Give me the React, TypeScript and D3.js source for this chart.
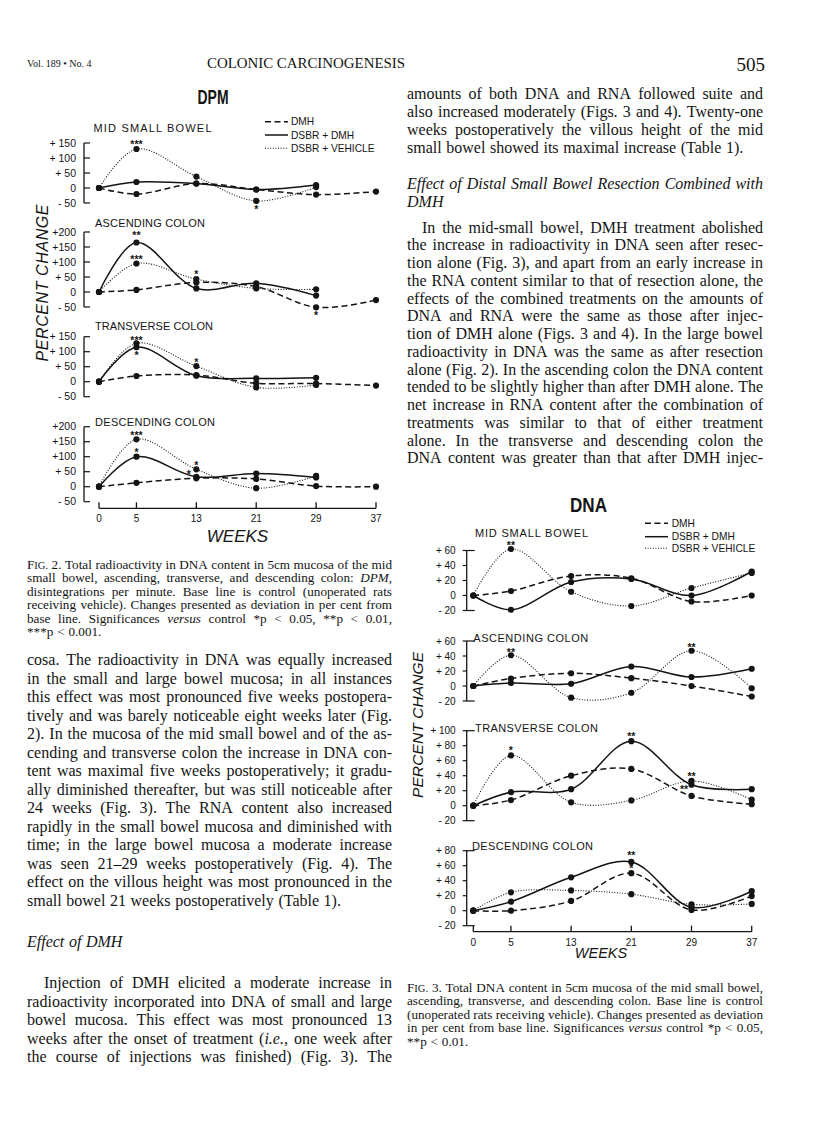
import React from 'react';
import * as d3 from 'd3';

// ---------------- DATA ----------------
const WEEKS = [0, 5, 13, 21, 29, 37];
const WEEK_LABELS = ['0', '5', '13', '21', '29', '37'];
const SERIES_NAMES = ['DMH', 'DSBR + DMH', 'DSBR + VEHICLE'];
const PANEL_NAMES = ['MID SMALL BOWEL', 'ASCENDING COLON', 'TRANSVERSE COLON', 'DESCENDING COLON'];

// Fig. 2 — DPM (percent change)
const DPM_DOMAINS = [[-50, 150], [-50, 200], [-50, 150], [-50, 200]];
const DPM_TICKS = [[150, 100, 50, 0, -50], [200, 150, 100, 50, 0, -50], [150, 100, 50, 0, -50], [200, 150, 100, 50, 0, -50]];
const DPM_TICK_LABELS = [
  ['+ 150', '+ 100', '+ 50', '0', '- 50'],
  ['+200', '+150', '+100', '+ 50', '0', '- 50'],
  ['+ 150', '+ 100', '+ 50', '0', '- 50'],
  ['+200', '+150', '+100', '+ 50', '0', '- 50'],
];
const DPM_DMH = [[0, -20, 15, -5, -22, -12], [0, 7, 32, 18, -51, -27], [0, 19, 22, -5, -6, -13], [0, 13, 28, 26, 2, 0]];
const DPM_DSBR_DMH = [[0, 20, 15, -5, 10], [0, 165, 12, 29, -12], [0, 115, 20, 11, 13], [0, 100, 33, 44, 31]];
const DPM_DSBR_VEH = [[0, 130, 38, -43, 3], [0, 95, 43, 12, 9], [0, 128, 52, -19, -11], [0, 158, 58, -5, 36]];
const DPM_STARS = [
  { p: 0, w: 5, v: 154, t: '***' }, { p: 0, w: 21, v: -64, t: '*' },
  { p: 1, w: 5, v: 197, t: '**' }, { p: 1, w: 5, v: 117, t: '***' }, { p: 1, w: 13, v: 67, t: '*' }, { p: 1, w: 29, v: -70, t: '*' },
  { p: 2, w: 5, v: 146, t: '***' }, { p: 2, w: 5, v: 96, t: '*' }, { p: 2, w: 13, v: 72, t: '*' },
  { p: 3, w: 5, v: 179, t: '***' }, { p: 3, w: 5, v: 122, t: '*' }, { p: 3, w: 13, v: 80, t: '*' }, { p: 3, w: 12, v: 50, t: '*' },
];

// Fig. 3 — DNA (percent change)
const DNA_DOMAINS = [[-20, 60], [-20, 60], [-20, 100], [-20, 80]];
const DNA_TICKS = [[60, 40, 20, 0, -20], [60, 40, 20, 0, -20], [100, 80, 60, 40, 20, 0, -20], [80, 60, 40, 20, 0, -20]];
const DNA_TICK_LABELS = [
  ['+ 60', '+ 40', '+ 20', '0', '- 20'],
  ['+ 60', '+ 40', '+ 20', '0', '- 20'],
  ['+ 100', '+ 80', '+ 60', '+ 40', '+ 20', '0', '- 20'],
  ['+ 80', '+ 60', '+ 40', '+ 20', '0', '- 20'],
];
const DNA_DMH = [[0, 6, 26, 23, -8, 0], [0, 10, 17, 10.5, 0, -14], [0, 7.5, 40, 49, 13, 2], [0, 0, 13, 50, 1, 19.5]];
const DNA_DSBR_DMH = [[0, -19, 18, 22, 0, 32], [0, 4, 3, 26, 12, 23], [0, 18, 22, 86, 28, 22], [0, 12, 44.5, 65, 4.5, 26]];
const DNA_DSBR_VEH = [[0, 62, 5, -14, 10, 30], [0, 41, -15.5, -9, 47, -3], [0, 67, 4.5, 7, 33, 8], [0, 24.5, 27, 22, 8.5, 9]];
const DNA_STARS = [
  { p: 0, w: 5, v: 70, t: '**' },
  { p: 1, w: 5, v: 48, t: '**' }, { p: 1, w: 29, v: 55, t: '**' },
  { p: 2, w: 5, v: 77, t: '*' }, { p: 2, w: 21, v: 96, t: '**' }, { p: 2, w: 29, v: 42, t: '**' }, { p: 2, w: 28, v: 25, t: '**' },
  { p: 3, w: 21, v: 77, t: '**' }, { p: 3, w: 21, v: 59, t: '*' },
];

// ---------------- TEXT ----------------
const RIGHT_TOP = [
  'amounts of both DNA and RNA followed suite and',
  'also increased moderately (Figs. 3 and 4). Twenty-one',
  'weeks postoperatively the villous height of the mid',
  'small bowel showed its maximal increase (Table 1).',
];
const RIGHT_HEAD = ['Effect of Distal Small Bowel Resection Combined with', 'DMH'];
const RIGHT_PARA = [
  'In the mid-small bowel, DMH treatment abolished',
  'the increase in radioactivity in DNA seen after resec-',
  'tion alone (Fig. 3), and apart from an early increase in',
  'the RNA content similar to that of resection alone, the',
  'effects of the combined treatments on the amounts of',
  'DNA and RNA were the same as those after injec-',
  'tion of DMH alone (Figs. 3 and 4). In the large bowel',
  'radioactivity in DNA was the same as after resection',
  'alone (Fig. 2). In the ascending colon the DNA content',
  'tended to be slightly higher than after DMH alone. The',
  'net increase in RNA content after the combination of',
  'treatments was similar to that of either treatment',
  'alone. In the transverse and descending colon the',
  'DNA content was greater than that after DMH injec-',
];
const CAP2 = [
  'F^IG.^ 2. Total radioactivity in DNA content in 5cm mucosa of the mid',
  'small bowel, ascending, transverse, and descending colon: _DPM_,',
  'disintegrations per minute. Base line is control (unoperated rats',
  'receiving vehicle). Changes presented as deviation in per cent from',
  'base line. Significances _versus_ control *p < 0.05, **p < 0.01,',
  '***p < 0.001.',
];
const LEFT_BODY = [
  'cosa. The radioactivity in DNA was equally increased',
  'in the small and large bowel mucosa; in all instances',
  'this effect was most pronounced five weeks postopera-',
  'tively and was barely noticeable eight weeks later (Fig.',
  '2). In the mucosa of the mid small bowel and of the as-',
  'cending and transverse colon the increase in DNA con-',
  'tent was maximal five weeks postoperatively; it gradu-',
  'ally diminished thereafter, but was still noticeable after',
  '24 weeks (Fig. 3). The RNA content also increased',
  'rapidly in the small bowel mucosa and diminished with',
  'time; in the large bowel mucosa a moderate increase',
  'was seen 21–29 weeks postoperatively (Fig. 4). The',
  'effect on the villous height was most pronounced in the',
  'small bowel 21 weeks postoperatively (Table 1).',
];
const LEFT_HEAD = 'Effect of DMH';
const LEFT_PARA = [
  'Injection of DMH elicited a moderate increase in',
  'radioactivity incorporated into DNA of small and large',
  'bowel mucosa. This effect was most pronounced 13',
  'weeks after the onset of treatment (_i.e._, one week after',
  'the course of injections was finished) (Fig. 3). The',
];
const CAP3 = [
  'F^IG.^ 3. Total DNA content in 5cm mucosa of the mid small bowel,',
  'ascending, transverse, and descending colon. Base line is control',
  '(unoperated rats receiving vehicle). Changes presented as deviation',
  'in per cent from base line. Significances _versus_ control *p < 0.05,',
  '**p < 0.01.',
];

// ---------------- LAYOUT ----------------
const INK = '#141414';
const SANS = '"Liberation Sans", Arial, Helvetica, sans-serif';
const SERIF = '"Liberation Serif", "Times New Roman", serif';

const DPM_X = [99, 376];
const DPM_AXIS_X = 84;
const DPM_PANEL_Y = [[203, 143], [307, 232], [396.7, 336.7], [501.7, 426.7]];
const DPM_TITLE_POS = [[93.5, 132.3, 118], [95, 227, 110], [95, 329.5, 118], [95, 426, 120]];
const DPM_XAXIS_Y = 508.3;

const DNA_X = [473.3, 751.7];
const DNA_AXIS_X = 466.7;
const DNA_PANEL_Y = [[610.5, 550.5], [701, 641], [820.7, 730.7], [925.7, 850.7]];
const DNA_TITLE_POS = [[475, 537, 113], [473.3, 642, 115], [475, 732, 123], [472, 850, 121]];
const DNA_XAXIS_Y = 931.7;

// ---------------- TEXT HELPERS ----------------
let _ctx: CanvasRenderingContext2D | null = null;
function mw(s: string, size: number, italic: boolean) {
  if (!_ctx) _ctx = document.createElement('canvas').getContext('2d');
  _ctx!.font = `${italic ? 'italic ' : ''}${size}px "Liberation Serif"`;
  return _ctx!.measureText(s).width;
}
type Piece = { s: string; it: boolean; sc: boolean };
function parseWord(w: string, st: { it: boolean; sc: boolean }): Piece[] {
  const out: Piece[] = [];
  let cur = '';
  for (const ch of w) {
    if (ch === '_' || ch === '^') {
      if (cur) out.push({ s: cur, it: st.it, sc: st.sc });
      cur = '';
      if (ch === '_') st.it = !st.it; else st.sc = !st.sc;
    } else cur += ch;
  }
  if (cur) out.push({ s: cur, it: st.it, sc: st.sc });
  return out;
}

function JLine({ text, x, y, width, size, justify, indent = 0, italic = false }:
  { text: string; x: number; y: number; width: number; size: number; justify: boolean; indent?: number; italic?: boolean }) {
  const st = { it: italic, sc: false };
  const words = text.split(' ').filter(Boolean).map(w => parseWord(w, st));
  const widths = words.map(ps => ps.reduce((a, p) => a + mw(p.s, p.sc ? size * 0.8 : size, p.it), 0));
  const total = widths.reduce((a, b) => a + b, 0);
  const avail = width - indent;
  const gap = justify && words.length > 1 ? (avail - total) / (words.length - 1) : mw(' ', size, false) * 1.15;
  let cx = x + indent;
  const spans: React.ReactNode[] = [];
  words.forEach((ps, wi) => {
    ps.forEach((p, pi) => {
      spans.push(
        <tspan key={`${wi}-${pi}`} x={pi === 0 ? cx : undefined} fontStyle={p.it ? 'italic' : 'normal'} fontSize={p.sc ? size * 0.8 : size}>{p.s}</tspan>
      );
    });
    cx += widths[wi] + gap;
  });
  return <text y={y} fontFamily={SERIF} fontSize={size} fill={INK}>{spans}</text>;
}

function Block({ lines, x, y0, dy, width, size, lastJustify = false, italic = false, indentFirst = 0 }:
  { lines: string[]; x: number; y0: number; dy: number; width: number; size: number; lastJustify?: boolean; italic?: boolean; indentFirst?: number }) {
  return (
    <g>
      {lines.map((l, i) => (
        <JLine key={i} text={l} x={x} y={y0 + i * dy} width={width} size={size}
          justify={i < lines.length - 1 || lastJustify} indent={i === 0 ? indentFirst : 0} italic={italic} />
      ))}
    </g>
  );
}

// ---------------- CHART PIECES ----------------
const STYLES = [
  { dash: '6 3.5', w: 1.5 },
  { dash: undefined as string | undefined, w: 1.5 },
  { dash: '1 1.6', w: 1.1 },
];

function Panel({ x, yRange, domain, ticks, tickLabels, series, title, titlePos, stars, axisX, labelGap, tickStyle, labelSize }:
  any) {
  const y = d3.scaleLinear().domain(domain).range(yRange);
  const line = d3.line<number>().x((_, i) => x(WEEKS[i])).y(d => y(d)).curve(d3.curveCatmullRom.alpha(0.5));
  const top = y(d3.max(ticks as number[])!);
  const bot = y(d3.min(ticks as number[])!);
  const order = [2, 0, 1];
  return (
    <g>
      <text x={titlePos[0]} y={titlePos[1]} fontFamily={SANS} fontSize={11} fill={INK} textLength={titlePos[2]} lengthAdjust="spacing">{title}</text>
      <line x1={axisX} x2={axisX} y1={top} y2={bot} stroke={INK} strokeWidth={1.3} />
      {(ticks as number[]).map((t, i) => {
        const ty = y(t);
        const edge = i === 0 || i === ticks.length - 1;
        const x1 = tickStyle === 'right' ? axisX : axisX - 4;
        const x2 = tickStyle === 'right' ? axisX + 6 : (edge ? axisX + 8 : axisX);
        return (
          <g key={t}>
            <line x1={x1} x2={x2} y1={ty} y2={ty} stroke={INK} strokeWidth={1.2} />
            <text x={axisX - labelGap} y={ty + 3.7} textAnchor="end" fontFamily={SANS} fontSize={labelSize} fill={INK}>{tickLabels[i]}</text>
          </g>
        );
      })}
      {order.map(si => (
        <path key={si} d={line(series[si])!} fill="none" stroke={INK} strokeWidth={STYLES[si].w} strokeDasharray={STYLES[si].dash} />
      ))}
      {series.map((s: number[], si: number) => s.map((v, i) => (
        <circle key={`${si}-${i}`} cx={x(WEEKS[i])} cy={y(v)} r={3.1} fill={INK} />
      )))}
      {stars.map((s: any, i: number) => (
        <text key={i} x={x(s.w)} y={y(s.v) + 6} textAnchor="middle" fontFamily={SANS} fontSize={10.5} fontWeight="bold" fill={INK}>{s.t}</text>
      ))}
    </g>
  );
}

function XAxis({ x, y, labelSize }: any) {
  return (
    <g>
      <line x1={x(WEEKS[0])} x2={x(WEEKS[WEEKS.length - 1])} y1={y} y2={y} stroke={INK} strokeWidth={1.3} />
      {WEEKS.map((w, i) => (
        <g key={w}>
          <line x1={x(w)} x2={x(w)} y1={y - 6} y2={y} stroke={INK} strokeWidth={1.3} />
          <text x={x(w)} y={y + 14} textAnchor="middle" fontFamily={SANS} fontSize={labelSize} fill={INK}>{WEEK_LABELS[i]}</text>
        </g>
      ))}
    </g>
  );
}

function Legend({ x0, x1, tx, ys }: any) {
  return (
    <g>
      {SERIES_NAMES.map((n, i) => (
        <g key={n}>
          <line x1={x0} x2={x1} y1={ys[i]} y2={ys[i]} stroke={INK} strokeWidth={STYLES[i].w} strokeDasharray={STYLES[i].dash} />
          <text x={tx} y={ys[i] + 3.7} fontFamily={SANS} fontSize={10.2} fill={INK}>{n}</text>
        </g>
      ))}
    </g>
  );
}

export default function App() {
  const xDPM = d3.scaleLinear().domain([0, 37]).range(DPM_X);
  const xDNA = d3.scaleLinear().domain([0, 37]).range(DNA_X);
  return (
    <svg width={816} height={1140} style={{ position: 'absolute', left: 0, top: 0, background: '#fff' }}>
      <rect width={816} height={1140} fill="#fff" />
      {/* header */}
      <text x={27} y={67} fontFamily={SERIF} fontSize={10} fill={INK}>Vol. 189 • No. 4</text>
      <text x={306} y={68} textAnchor="middle" fontFamily={SERIF} fontSize={14.5} fill={INK} textLength={198} lengthAdjust="spacingAndGlyphs">COLONIC CARCINOGENESIS</text>
      <text x={765} y={71} textAnchor="end" fontFamily={SERIF} fontSize={19} fill={INK}>505</text>

      {/* Fig. 2 DPM */}
      <text x={213} y={104} textAnchor="middle" fontFamily={SANS} fontSize={21} fontWeight="bold" fill={INK} textLength={31} lengthAdjust="spacingAndGlyphs">DPM</text>
      <Legend x0={265} x1={288} tx={291} ys={[121.7, 135, 148.3]} />
      {PANEL_NAMES.map((name, p) => (
        <Panel key={name} x={xDPM} yRange={DPM_PANEL_Y[p]} domain={DPM_DOMAINS[p]} ticks={DPM_TICKS[p]} tickLabels={DPM_TICK_LABELS[p]}
          series={[DPM_DMH[p], DPM_DSBR_DMH[p], DPM_DSBR_VEH[p]]} title={name} titlePos={DPM_TITLE_POS[p]}
          stars={DPM_STARS.filter(s => s.p === p)} axisX={DPM_AXIS_X} labelGap={8} tickStyle="right" labelSize={10.5} />
      ))}
      <XAxis x={xDPM} y={DPM_XAXIS_Y} labelSize={10} />
      <text x={237.5} y={542} textAnchor="middle" fontFamily={SANS} fontSize={17} fontStyle="italic" fill={INK}>WEEKS</text>
      <text transform="translate(48,283) rotate(-90)" textAnchor="middle" fontFamily={SANS} fontSize={16} fontStyle="italic" fill={INK} textLength={157} lengthAdjust="spacing">PERCENT CHANGE</text>

      {/* Fig. 3 DNA */}
      <text x={588.5} y={512} textAnchor="middle" fontFamily={SANS} fontSize={20} fontWeight="bold" fill={INK} textLength={37} lengthAdjust="spacingAndGlyphs">DNA</text>
      <Legend x0={645} x1={668} tx={671.7} ys={[523.3, 536.7, 548.3]} />
      {PANEL_NAMES.map((name, p) => (
        <Panel key={'d' + name} x={xDNA} yRange={DNA_PANEL_Y[p]} domain={DNA_DOMAINS[p]} ticks={DNA_TICKS[p]} tickLabels={DNA_TICK_LABELS[p]}
          series={[DNA_DMH[p], DNA_DSBR_DMH[p], DNA_DSBR_VEH[p]]} title={name} titlePos={DNA_TITLE_POS[p]}
          stars={DNA_STARS.filter(s => s.p === p)} axisX={DNA_AXIS_X} labelGap={11} tickStyle="left" labelSize={10} />
      ))}
      <XAxis x={xDNA} y={DNA_XAXIS_Y} labelSize={10} />
      <text x={601} y={958} textAnchor="middle" fontFamily={SANS} fontSize={14.5} fontStyle="italic" fill={INK}>WEEKS</text>
      <text transform="translate(422.5,725) rotate(-90)" textAnchor="middle" fontFamily={SANS} fontSize={15.5} fontStyle="italic" fill={INK} textLength={146} lengthAdjust="spacing">PERCENT CHANGE</text>

      {/* Right column text */}
      <Block lines={RIGHT_TOP} x={407} y0={98.5} dy={18} width={356} size={16} />
      <Block lines={RIGHT_HEAD} x={407} y0={188.5} dy={18.2} width={356} size={16} italic />
      <Block lines={RIGHT_PARA} x={407} y0={232.7} dy={17.75} width={356} size={16} lastJustify indentFirst={15} />
      <Block lines={CAP3} x={407} y0={992} dy={13.4} width={356} size={13.2} />

      {/* Left column text */}
      <Block lines={CAP2} x={27} y0={569} dy={13.4} width={365} size={13.2} />
      <Block lines={LEFT_BODY} x={27} y0={665} dy={18.5} width={365} size={16} />
      <Block lines={[LEFT_HEAD]} x={27} y0={947} dy={18} width={365} size={16} italic />
      <Block lines={LEFT_PARA} x={27} y0={988} dy={18.5} width={365} size={16} lastJustify indentFirst={17} />
    </svg>
  );
}
